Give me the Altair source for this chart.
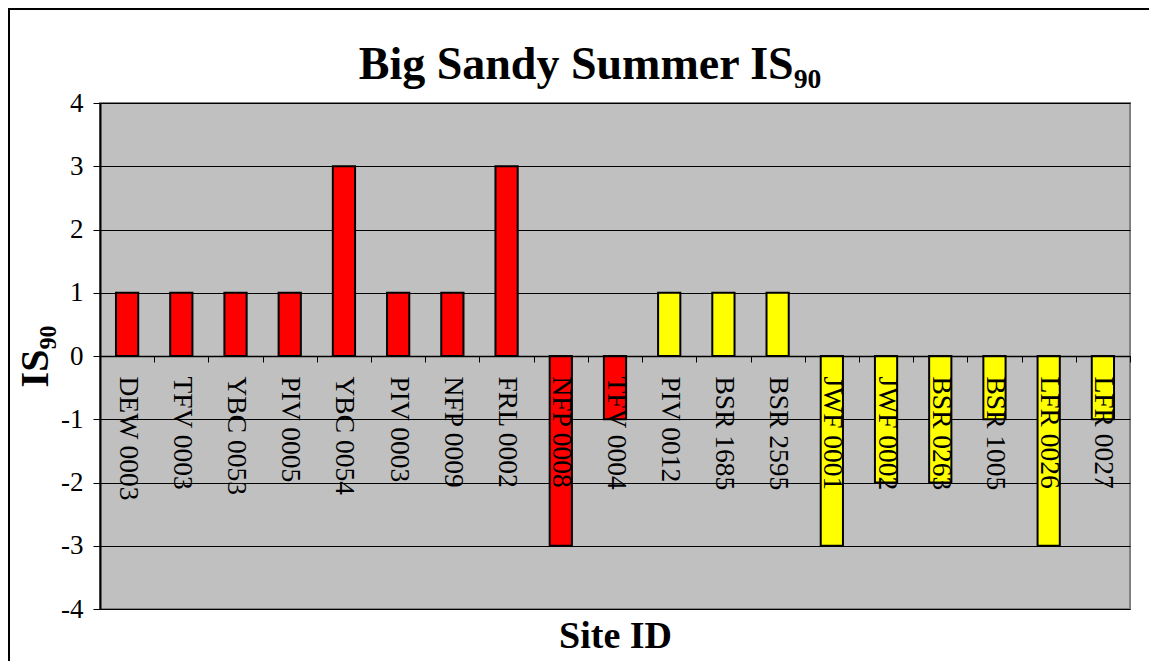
import altair as alt
import pandas as pd

sites = ["DEW 0003", "TFV 0003", "YBC 0053", "PIV 0005", "YBC 0054", "PIV 0003",
         "NFP 0009", "FRL 0002", "NFP 0008", "TFV 0004", "PIV 0012", "BSR 1685",
         "BSR 2595", "JWF 0001", "JWF 0002", "BSR 0263", "BSR 1005", "LFR 0026",
         "LFR 0027"]
values = [1, 1, 1, 1, 3, 1, 1, 3, -3, -1, 1, 1, 1, -3, -2, -2, -1, -3, -1]
groups = ["A"] * 10 + ["B"] * 9
y_ticks = [-4, -3, -2, -1, 0, 1, 2, 3, 4]
title_text = ["Big Sandy Summer IS₉₀"]

df = pd.DataFrame({"site": sites, "value": values, "group": groups})

FONT = "Liberation Serif"
W, H = 1030, 506

xscale = alt.Scale(paddingInner=0, paddingOuter=0)

bars = alt.Chart(df).mark_bar(
    width=alt.RelativeBandSize(0.41), stroke="black", strokeWidth=2
).encode(
    x=alt.X("site:N", sort=sites, scale=xscale,
            axis=alt.Axis(orient="bottom", offset=-H / 2, title=None,
                          labelAngle=90, labelFont=FONT, labelFontSize=27.5,
                          labelColor="black", labelPadding=14, labelOverlap=False,
                          labelBound=False, labelFlush=False, labelLimit=300,
                          tickBand="extent", tickSize=6, tickColor="black",
                          tickWidth=1, domainColor="black", domainWidth=1.5,
                          grid=False, zindex=1)),
    y=alt.Y("value:Q", scale=alt.Scale(domain=[-4, 4], nice=False),
            axis=alt.Axis(values=y_ticks, title="IS₉₀", titleFont=FONT,
                          titleFontSize=40, titleFontWeight="bold",
                          titleColor="black", titlePadding=5,
                          labelExpr="'' + datum.value",
                          labelFont=FONT, labelFontSize=27, labelColor="black",
                          labelPadding=10, tickSize=7, tickColor="black",
                          domainColor="black", domainWidth=2,
                          grid=True, gridColor="black", gridWidth=1,
                          gridOpacity=1, zindex=0)),
    color=alt.Color("group:N", scale=alt.Scale(domain=["A", "B"],
                                               range=["#FF0000", "#FFFF00"]),
                    legend=None),
)

xtitle = alt.Chart(df).mark_point(opacity=0).encode(
    x=alt.X("site:N", sort=sites, scale=xscale,
            axis=alt.Axis(orient="bottom", title="Site ID", titleFont=FONT,
                          titleFontSize=38, titleFontWeight="bold",
                          titleColor="black", titlePadding=8, labels=False,
                          ticks=False, domain=False, grid=False)),
    y=alt.value(0),
)

frame = alt.Chart(df).mark_rect(fill=None, stroke="black", strokeWidth=2).encode(
    x=alt.value(-91), y=alt.value(-94), x2=alt.value(3000), y2=alt.value(3000)
)

title = alt.Chart(pd.DataFrame({"t": title_text})).mark_text(
    font=FONT, fontSize=46, fontWeight="bold", color="black",
    align="center", baseline="alphabetic"
).encode(text="t:N", x=alt.value(490), y=alt.value(-24))

chart = alt.layer(frame, bars, xtitle, title).resolve_axis(x="independent").properties(
    width=W, height=H,
    autosize=alt.AutoSizeParams(type="none"),
    padding={"left": 92, "top": 95, "right": 19, "bottom": 52},
).configure_view(
    fill="#C0C0C0", stroke="#808080", strokeWidth=2
)

chart.save("out.html", embed_options={"renderer": "svg", "actions": False})
